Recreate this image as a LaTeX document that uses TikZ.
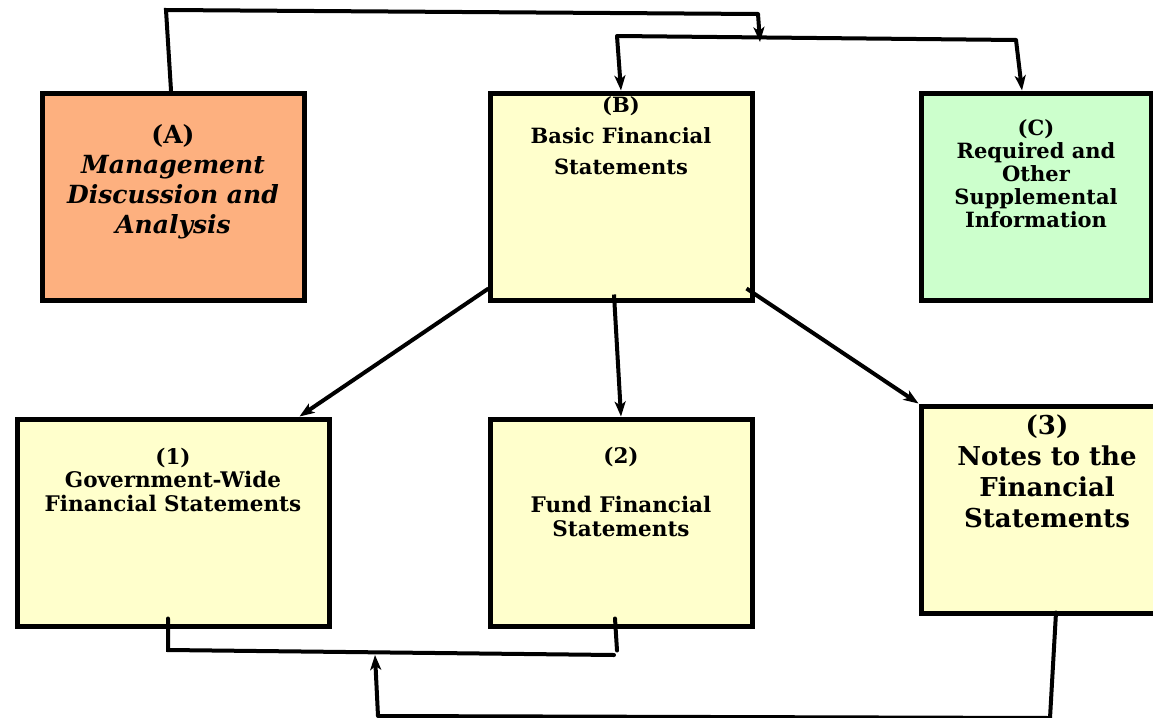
\documentclass[tikz,border=0pt]{standalone}
\usepackage{fontspec}
\setmainfont{DejaVu Serif}
\usetikzlibrary{arrows.meta,calc}
\definecolor{peach}{HTML}{FDB07F}
\definecolor{paleyellow}{HTML}{FFFFCC}
\definecolor{palegreen}{HTML}{CCFFCC}
\begin{document}
\begin{tikzpicture}[x=1pt,y=-1pt,
  box/.style={draw=black, line width=5pt, inner sep=0pt, anchor=north west,
              minimum width=262pt, minimum height=207pt},
  lbl/.style={anchor=north, align=center, inner sep=0pt, font=\bfseries},
  conn/.style={line width=4pt, line cap=round},
  arr/.style={line width=4pt, -{Stealth[length=15pt,width=11pt,inset=4pt]}}]
\useasboundingbox (0,0) rectangle (1153,717);
\clip (0,0) rectangle (1153,717);

% boxes
\node[box, fill=peach] (A) at (39.5,90.5) {};
\node[box, fill=paleyellow] (B) at (487.5,90.5) {};
\node[box, fill=palegreen, minimum width=230pt] (C) at (918.5,90.5) {};
\node[box, fill=paleyellow, minimum width=312pt] (G) at (14.5,416.5) {};
\node[box, fill=paleyellow] (F) at (487.5,416.5) {};
\node[box, fill=paleyellow, minimum width=260pt] (N) at (918.5,403.5) {};

% labels
\node[lbl, font=\fontsize{25}{30}\selectfont\bfseries] (Atxt) at ($(A.north)+(0,34)$)
  {(A)\\\itshape Management\\\itshape Discussion and\\\itshape Analysis};
\node[lbl, font=\fontsize{21}{31}\selectfont\bfseries] (Btxt) at ($(B.north)+(0,6)$)
  {(B)\\Basic Financial\\Statements};
\node[lbl, font=\fontsize{21}{23}\selectfont\bfseries] (Ctxt) at ($(C.north)+(0,29)$)
  {(C)\\Required and\\Other\\Supplemental\\Information};
\node[lbl, font=\fontsize{21.5}{23.5}\selectfont\bfseries] (Gtxt) at ($(G.north)+(0,31)$)
  {(1)\\Government-Wide\\Financial Statements};
\node[lbl, font=\fontsize{21.5}{23.5}\selectfont\bfseries] (Ftxt) at ($(F.north)+(0,30)$)
  {(2)\\[26pt]Fund Financial\\Statements};
\node[lbl, font=\fontsize{26}{31}\selectfont\bfseries] (Ntxt) at ($(N.north)+(-4,11)$)
  {(3)\\Notes to the\\Financial\\Statements};

% top connectors
\coordinate (t1) at (166,10);
\coordinate (t2) at (758,14);
\coordinate (t3) at (760,42);
\coordinate (s1) at (617,36);
\coordinate (s2) at (1016,40);
\draw[conn] ($(A.north)+(-2,0)$) -- (t1) -- (t2);
\draw[arr] (t2) -- (t3);
\draw[conn] (s1) -- (s2);
\draw[arr] (s1) -- (B.north);
\draw[arr] (s2) -- ($(C.north)+(-14,0)$);

% from B to the three statements
\draw[arr] ($(B.south west)+(1,-14)$) -- ($(G.north east)+(-32,0)$);
\draw[arr] ($(B.south)+(-7,-8)$) -- (F.north);
\draw[arr] ($(B.south east)+(-8,-14)$) -- (N.north west);

% bottom connectors
\coordinate (b1) at (168,650);
\coordinate (b2) at (614,655);
\coordinate (n1) at (1050,718);
\coordinate (n2) at (378,716);
\draw[conn] ($(G.south)+(-5,-10)$) -- (b1) -- (b2);
\draw[conn] ($(F.south)+(-6,-10)$) -- ($(F.south)+(-4,22)$);
\draw[conn] ($(N.south)+(5,-3)$) -- (n1) -- (n2);
\draw[arr] (n2) -- (375,655);
\end{tikzpicture}
\end{document}
